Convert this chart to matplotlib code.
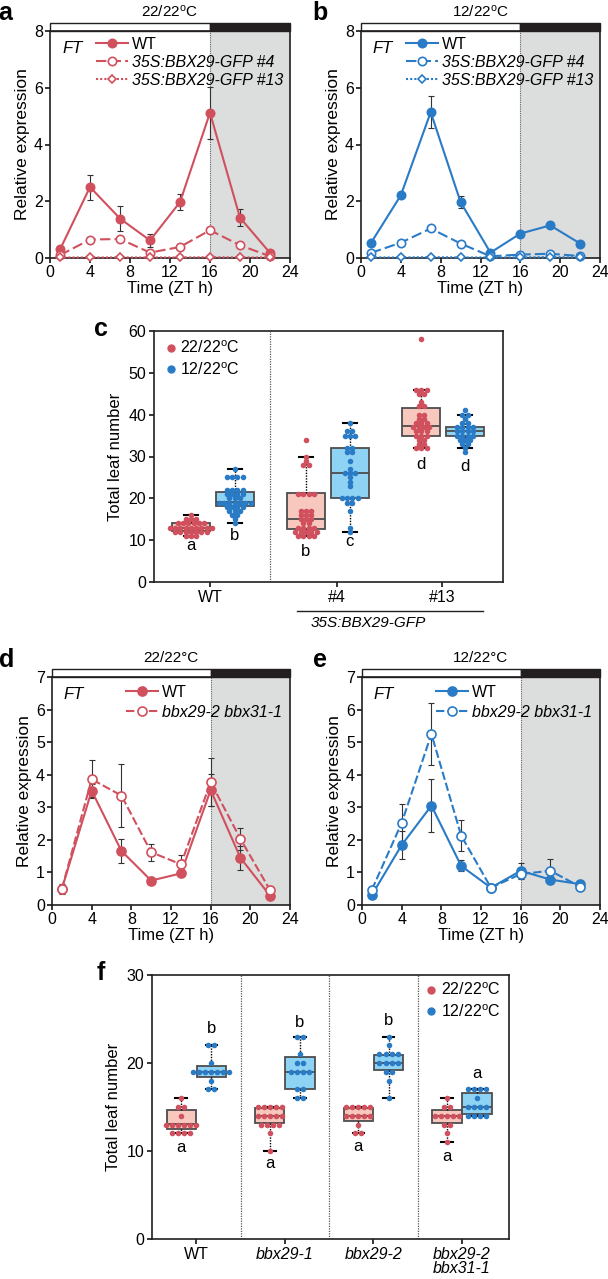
import matplotlib
matplotlib.use("Agg")
import matplotlib.pyplot as plt
import numpy as np
from matplotlib.patches import Rectangle
from matplotlib.lines import Line2D

plt.rcParams.update({
    "font.family": ["Liberation Sans", "DejaVu Sans"],
    "mathtext.fontset": "custom",
    "mathtext.rm": "Liberation Sans",
    "mathtext.it": "Liberation Sans:italic",
    "axes.linewidth": 1.2,
    "axes.edgecolor": "#231F20",
    "xtick.direction": "out",
    "ytick.direction": "out",
    "xtick.major.size": 3.5,
    "ytick.major.size": 3.5,
    "xtick.major.width": 1.1,
    "ytick.major.width": 1.1,
})

RED = "#D1505E"
BLUE = "#2A7BC6"
RED_FILL = "#F8C8BE"
BLUE_FILL = "#8ED3F4"
SHADE = "#DCDDDD"
DARK = "#231F20"
BOXEDGE = "#4D4D4D"

# ---- time course data (FT relative expression) ----
ZT = [1, 4, 7, 10, 13, 16, 19, 22]

a_wt = [0.30, 2.50, 1.39, 0.62, 1.97, 5.12, 1.42, 0.18]
a_wt_err = [0.05, 0.44, 0.45, 0.24, 0.28, 0.92, 0.29, 0.05]
a_ox4 = [0.10, 0.65, 0.67, 0.19, 0.39, 0.98, 0.45, 0.06]
a_ox4_err = [0.03, 0.05, 0.06, 0.04, 0.05, 0.10, 0.05, 0.02]
a_ox13 = [0.02, 0.02, 0.02, 0.02, 0.02, 0.03, 0.02, 0.02]
a_ox13_err = [0.01, 0.01, 0.01, 0.01, 0.01, 0.01, 0.01, 0.01]

b_wt = [0.53, 2.21, 5.14, 1.97, 0.19, 0.86, 1.15, 0.51]
b_wt_err = [0.05, 0.05, 0.57, 0.22, 0.04, 0.08, 0.06, 0.05]
b_ox4 = [0.18, 0.54, 1.04, 0.51, 0.06, 0.12, 0.15, 0.07]
b_ox4_err = [0.03, 0.04, 0.08, 0.04, 0.02, 0.03, 0.03, 0.02]
b_ox13 = [0.02, 0.02, 0.03, 0.02, 0.02, 0.02, 0.03, 0.02]
b_ox13_err = [0.01, 0.01, 0.01, 0.01, 0.01, 0.01, 0.01, 0.01]

d_wt = [0.50, 3.51, 1.66, 0.75, 0.97, 3.53, 1.45, 0.28]
d_wt_err = [0.10, 0.20, 0.36, 0.12, 0.06, 0.48, 0.37, 0.05]
d_mut = [0.50, 3.86, 3.36, 1.62, 1.25, 3.77, 2.03, 0.45]
d_mut_err = [0.15, 0.58, 0.98, 0.26, 0.29, 0.73, 0.33, 0.12]

e_wt = [0.31, 1.84, 3.05, 1.20, 0.53, 1.05, 0.78, 0.64]
e_wt_err = [0.05, 0.44, 0.82, 0.17, 0.04, 0.24, 0.06, 0.05]
e_mut = [0.47, 2.52, 5.25, 2.13, 0.53, 0.95, 1.05, 0.56]
e_mut_err = [0.06, 0.57, 0.95, 0.48, 0.04, 0.08, 0.36, 0.05]

# ---- panel c: total leaf number ----
c_groups = ["WT", "#4", "#13"]
c_red_pts = [
    [11, 11, 11, 12, 12, 12, 12, 12, 12, 12, 13, 13, 13, 13, 13, 13, 13, 13, 13,
     14, 14, 14, 14, 14, 14, 15, 15, 15, 16],
    [11, 11, 11, 11, 12, 12, 12, 12, 12, 13, 13, 13, 13, 14, 14, 15, 15, 15, 16,
     16, 16, 17, 17, 17, 21, 21, 21, 21, 28, 28, 29, 30, 34],
    [32, 32, 32, 33, 33, 34, 34, 35, 35, 35, 36, 36, 36, 37, 37, 37, 37, 38, 38,
     38, 39, 39, 40, 40, 42, 42, 43, 45, 45, 46, 46, 46, 58],
]
c_blue_pts = [
    [14, 15, 16, 16, 17, 17, 17, 18, 18, 18, 18, 19, 19, 19, 19, 19, 19, 19, 20,
     20, 20, 21, 21, 21, 21, 22, 22, 22, 22, 25, 25, 25, 25, 27],
    [12, 13, 17, 19, 19, 20, 20, 20, 20, 23, 24, 25, 26, 26, 26, 27, 29, 31, 31,
     32, 32, 35, 35, 35, 36, 36, 38],
    [31, 32, 33, 33, 34, 34, 34, 35, 35, 35, 35, 36, 36, 36, 36, 37, 37, 37, 37,
     38, 38, 39, 40, 40, 41],
]
# box statistics: q1, median, q3, whisker low, whisker high
c_red_q1 = [12.2, 12.6, 35.0]
c_red_med = [13.0, 15.1, 37.4]
c_red_q3 = [14.2, 21.2, 41.7]
c_red_lo = [11, 11, 32]
c_red_hi = [16, 30, 46]
c_blue_q1 = [18.1, 20.1, 35.0]
c_blue_med = [19.2, 26.1, 36.0]
c_blue_q3 = [21.4, 32.0, 37.0]
c_blue_lo = [14, 12, 32]
c_blue_hi = [27, 38, 40]
c_red_letters = ["a", "b", "d"]
c_blue_letters = ["b", "c", "d"]

# ---- panel f: total leaf number ----
f_groups = ["WT", "bbx29-1", "bbx29-2", "bbx29-2\nbbx31-1"]
f_red_pts = [
    [12, 12, 12, 12, 13, 13, 13, 13, 13, 13, 14, 15, 15, 16],
    [10, 12, 13, 13, 13, 13, 14, 14, 14, 14, 14, 15, 15, 15, 15, 15],
    [12, 12, 13, 14, 14, 14, 14, 14, 15, 15, 15, 15, 15],
    [11, 12, 13, 13, 14, 14, 14, 14, 14, 15, 15, 16],
]
f_blue_pts = [
    [17, 17, 18, 19, 19, 19, 19, 19, 19, 19, 20, 22, 22],
    [16, 16, 17, 17, 19, 19, 19, 19, 20, 20, 21, 23, 23],
    [16, 18, 19, 19, 20, 20, 20, 20, 21, 21, 21, 21, 22, 23],
    [14, 14, 14, 14, 15, 15, 15, 15, 16, 17, 17, 17, 17],
]
f_red_q1 = [12.5, 13.2, 13.4, 13.2]
f_red_med = [13.1, 14.0, 14.0, 14.0]
f_red_q3 = [14.7, 14.9, 14.9, 14.7]
f_red_lo = [12, 10, 12, 11]
f_red_hi = [16, 15, 15, 16]
f_blue_q1 = [18.4, 17.1, 19.2, 14.2]
f_blue_med = [19.0, 19.0, 20.0, 15.0]
f_blue_q3 = [19.7, 20.7, 20.9, 16.6]
f_blue_lo = [17, 16, 16, 14]
f_blue_hi = [22, 23, 23, 17]
f_red_letters = ["a", "a", "a", "a"]
f_blue_letters = ["b", "b", "b", "a"]

W, H = 608, 1279
fig = plt.figure(figsize=(W / 100, H / 100), dpi=100)


def px_axes(l, t, r, b):
    return fig.add_axes([l / W, 1 - b / H, (r - l) / W, (b - t) / H])


def time_panel(ax, ymax, title, series, color, leg_xy, lspace):
    ax.axvspan(16, 24, color=SHADE, lw=0, zorder=0)
    ax.axvline(16, color="#666666", lw=0.8, ls=(0, (1, 1)), zorder=1)
    for y, err, ls, marker, ms, filled, label in series:
        ax.errorbar(ZT, y, yerr=err, fmt="none", ecolor="#333333",
                    elinewidth=0.8, capsize=2.2, capthick=0.8, zorder=2)
        ax.plot(ZT, y, ls=ls, color=color, lw=1.5, marker=marker, ms=ms,
                mfc=color if filled else "white", mec=color, mew=1.2,
                label=label, zorder=3, clip_on=False)
    ax.set_xlim(0, 24)
    ax.set_ylim(0, ymax)
    ax.set_xticks(range(0, 25, 4))
    ax.set_yticks(range(0, ymax + 1, 2 if ymax == 8 else 1))
    ax.tick_params(labelsize=11.5, pad=1.5)
    ax.set_xlabel("Time (ZT h)", fontsize=12, labelpad=1)
    ax.set_ylabel("Relative expression", fontsize=12.5, labelpad=3)
    trans = ax.get_xaxis_transform()
    ax.add_patch(Rectangle((0, 1.0), 16, 0.037, transform=trans, facecolor="white",
                           edgecolor=DARK, lw=1.0, clip_on=False))
    ax.add_patch(Rectangle((16, 1.0), 8, 0.037, transform=trans, facecolor=DARK,
                           edgecolor=DARK, lw=1.0, clip_on=False))
    ax.text(12, 1.085, title, transform=trans, ha="center", va="center", fontsize=11)
    ax.text(0.05, 0.925, "FT", style="italic", transform=ax.transAxes,
            ha="left", va="center", fontsize=12)
    leg = ax.legend(loc="upper left", bbox_to_anchor=leg_xy, frameon=False,
                    handlelength=2.0, handletextpad=0.25, labelspacing=lspace,
                    borderpad=0, borderaxespad=0, fontsize=11.5)
    for t in leg.get_texts()[1:]:
        t.set_fontstyle("italic")


def swarm(vals, dx):
    vals = np.asarray(vals, dtype=float)
    offs = np.zeros(len(vals))
    for v in np.unique(vals):
        idx = np.where(vals == v)[0]
        offs[idx] = (np.arange(len(idx)) - (len(idx) - 1) / 2) * dx
    return offs


def box(ax, p, q1, med, q3, lo, hi, pts, fill, color, width, cap, dx, s):
    st = [dict(q1=q1, med=med, q3=q3, whislo=lo, whishi=hi)]
    ax.bxp(st, positions=[p], widths=width, capwidths=cap, showfliers=False,
           patch_artist=True, manage_ticks=False,
           boxprops=dict(facecolor=fill, edgecolor=BOXEDGE, lw=1.3),
           medianprops=dict(color=BOXEDGE, lw=1.3),
           whiskerprops=dict(color="k", lw=1.0, ls=(0, (1, 1))),
           capprops=dict(color="k", lw=1.5), zorder=2)
    ax.scatter(p + swarm(pts, dx), pts, s=s, color=color, lw=0, zorder=3)


# ---- a, b ----
ax_a = px_axes(50, 31, 290, 258)
time_panel(ax_a, 8, "22/22$^{\\rm o}$C", [
    (a_wt, a_wt_err, "-", "o", 6, True, "WT"),
    (a_ox4, a_ox4_err, (0, (5, 2)), "o", 6, False, "35S:BBX29-GFP #4"),
    (a_ox13, a_ox13_err, (0, (1, 1)), "D", 4.5, False, "35S:BBX29-GFP #13"),
], RED, (0.19, 0.975), 0.2)

ax_b = px_axes(361, 31, 600, 258)
time_panel(ax_b, 8, "12/22$^{\\rm o}$C", [
    (b_wt, b_wt_err, "-", "o", 6, True, "WT"),
    (b_ox4, b_ox4_err, (0, (5, 2)), "o", 6, False, "35S:BBX29-GFP #4"),
    (b_ox13, b_ox13_err, (0, (1, 1)), "D", 4.5, False, "35S:BBX29-GFP #13"),
], BLUE, (0.19, 0.975), 0.2)

# ---- c ----
ax_c = px_axes(154, 331, 503, 582)
c_pos = [0, 1, 2]
c_tick_pos = [-0.02, 1.08, 1.99]
c_red_letter_y = [8.8, 7.4, 28.1]
c_blue_letter_y = [11.2, 9.6, 27.7]
for i in range(3):
    box(ax_c, c_pos[i] - 0.19, c_red_q1[i], c_red_med[i], c_red_q3[i], c_red_lo[i],
        c_red_hi[i], c_red_pts[i], RED_FILL, RED, 0.33, 0.12, 0.046, 16)
    box(ax_c, c_pos[i] + 0.19, c_blue_q1[i], c_blue_med[i], c_blue_q3[i], c_blue_lo[i],
        c_blue_hi[i], c_blue_pts[i], BLUE_FILL, BLUE, 0.33, 0.12, 0.046, 16)
    ax_c.text(c_pos[i] - 0.19, c_red_letter_y[i], c_red_letters[i], ha="center",
              va="center", fontsize=12)
    ax_c.text(c_pos[i] + 0.19, c_blue_letter_y[i], c_blue_letters[i], ha="center",
              va="center", fontsize=12)
ax_c.axvline(0.5, color="#555555", lw=0.9, ls=(0, (1, 1)), zorder=1)
ax_c.set_xlim(-0.51, 2.52)
ax_c.set_ylim(0, 60)
ax_c.set_yticks(range(0, 61, 10))
ax_c.set_xticks(c_tick_pos)
ax_c.set_xticklabels(c_groups)
ax_c.tick_params(labelsize=11.5, pad=2)
ax_c.set_ylabel("Total leaf number", fontsize=12, labelpad=4)
tc = ax_c.get_xaxis_transform()
ax_c.add_line(Line2D([0.73, 2.35], [-0.116, -0.116], transform=tc, color=DARK,
                     lw=1.0, clip_on=False))
ax_c.text(1.35, -0.163, "35S:BBX29-GFP", style="italic", transform=tc,
          ha="center", va="center", fontsize=11)
hc = [Line2D([], [], ls="", marker="o", ms=5, color=RED),
      Line2D([], [], ls="", marker="o", ms=5, color=BLUE)]
ax_c.legend(hc, ["22/22$^{\\rm o}$C", "12/22$^{\\rm o}$C"], loc="upper left",
            bbox_to_anchor=(0.03, 0.965), frameon=False, handlelength=0.8,
            handletextpad=0.2, labelspacing=0.3, borderpad=0, borderaxespad=0,
            fontsize=11.5)

# ---- d, e ----
ax_d = px_axes(52, 677, 290, 905)
time_panel(ax_d, 7, "22/22\u00b0C", [
    (d_wt, d_wt_err, "-", "o", 6.5, True, "WT"),
    (d_mut, d_mut_err, (0, (4, 1.5)), "o", 6.5, False, "bbx29-2 bbx31-1"),
], RED, (0.31, 0.965), 0.3)

ax_e = px_axes(362, 677, 600, 905)
time_panel(ax_e, 7, "12/22\u00b0C", [
    (e_wt, e_wt_err, "-", "o", 6.5, True, "WT"),
    (e_mut, e_mut_err, (0, (4, 1.5)), "o", 6.5, False, "bbx29-2 bbx31-1"),
], BLUE, (0.31, 0.965), 0.3)

# ---- f ----
ax_f = px_axes(152, 975, 509, 1239)
f_red_letter_y = [10.4, 8.6, 10.5, 9.4]
f_blue_letter_y = [23.9, 24.6, 24.8, 18.8]
for i in range(4):
    box(ax_f, i - 0.17, f_red_q1[i], f_red_med[i], f_red_q3[i], f_red_lo[i],
        f_red_hi[i], f_red_pts[i], RED_FILL, RED, 0.33, 0.13, 0.068, 16)
    box(ax_f, i + 0.17, f_blue_q1[i], f_blue_med[i], f_blue_q3[i], f_blue_lo[i],
        f_blue_hi[i], f_blue_pts[i], BLUE_FILL, BLUE, 0.33, 0.13, 0.068, 16)
    ax_f.text(i - 0.17, f_red_letter_y[i], f_red_letters[i], ha="center",
              va="center", fontsize=12)
    ax_f.text(i + 0.17, f_blue_letter_y[i], f_blue_letters[i], ha="center",
              va="center", fontsize=12)
for xs in (0.5, 1.5, 2.5):
    ax_f.axvline(xs, color="#555555", lw=0.9, ls=(0, (1, 1)), zorder=1)
ax_f.set_xlim(-0.5, 3.53)
ax_f.set_ylim(0, 30)
ax_f.set_yticks([0, 10, 20, 30])
ax_f.set_xticks(range(4))
ax_f.set_xticklabels(f_groups, linespacing=0.95)
for t in ax_f.get_xticklabels()[1:]:
    t.set_fontstyle("italic")
ax_f.tick_params(labelsize=11.5, pad=2)
ax_f.set_ylabel("Total leaf number", fontsize=12, labelpad=4)
ax_f.legend(hc, ["22/22$^{\\rm o}$C", "12/22$^{\\rm o}$C"], loc="upper left",
            bbox_to_anchor=(0.765, 0.975), frameon=False, handlelength=0.8,
            handletextpad=0.2, labelspacing=0.3, borderpad=0, borderaxespad=0,
            fontsize=11.5)

# ---- panel letters ----
for lab, x, y in [("a", 5, 20), ("b", 320, 20), ("c", 101, 336),
                  ("d", 7, 667), ("e", 320, 667), ("f", 101, 980)]:
    fig.text(x / W, 1 - y / H, lab, fontsize=18, fontweight="bold",
             ha="center", va="baseline")

fig.savefig("out.png", dpi=100)
